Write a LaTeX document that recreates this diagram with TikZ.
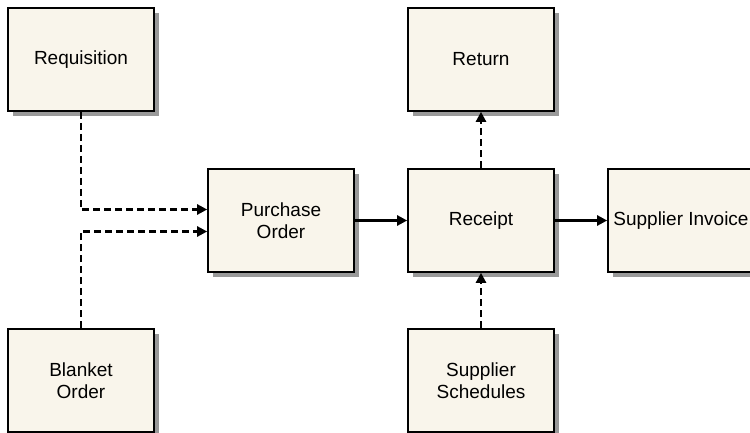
\documentclass[tikz,border=0pt]{standalone}
\usepackage{fontspec}
\setmainfont{Liberation Sans}
\usetikzlibrary{arrows.meta,shadows}
\definecolor{boxfill}{RGB}{249,245,235}

\begin{document}
\begin{tikzpicture}[->,>={Triangle[length=10pt,width=10pt]},line width=2.3pt,
                node distance=200pt,
                main node/.style={rectangle,draw,fill=boxfill,line width=1.6pt,
                  minimum width=146pt,minimum height=103pt,align=center,
                  font=\fontsize{19}{22}\selectfont,
                  drop shadow={shadow xshift=5pt,shadow yshift=-5pt,fill=black!40,opacity=1}},
                link/.style={dash pattern=on 7pt off 4pt}]
	\useasboundingbox (0,0) rectangle (750pt,-433pt);
	\node[main node] (2) at (281pt,-220.5pt) {Purchase\\Order};
	\node[main node] (3) [right of = 2] {Receipt};
	\node[main node] (4) [right of = 3] {Supplier Invoice};
	\node[main node] (5) [above of = 3, node distance=161pt] {Return};
	\node[main node] (6) [below of = 3, node distance=160pt] {Supplier\\Schedules};
	\node[main node] (1) [left of = 5, node distance=400pt] {Requisition};
	\node[main node] (7) [left of = 6, node distance=400pt] {Blanket\\Order};

	\draw[link] (1) |- ([yshift=11pt]2.west);
	\draw[link] (7) |- ([yshift=-11pt]2.west);
	\path
	(2) edge node {} (3)
	(3) edge node {} (4)
	(3) edge [link] node {} (5)
	(6) edge [link] node {} (3)
;
\end{tikzpicture}
\end{document}
